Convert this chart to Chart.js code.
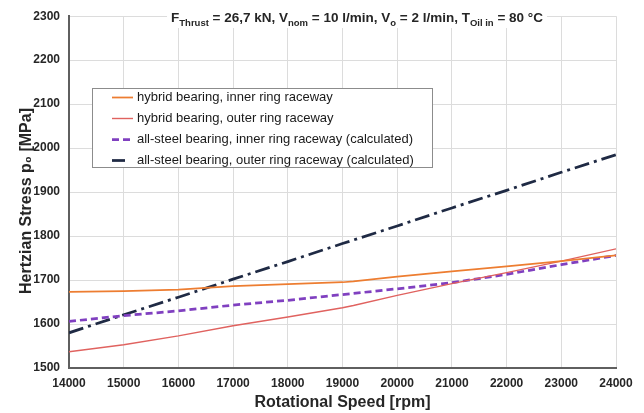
<!DOCTYPE html>
<html><head><meta charset="utf-8">
<script src="https://cdn.jsdelivr.net/npm/chart.js@4.4.1/dist/chart.umd.min.js"></script>
<style>html,body{margin:0;padding:0;background:#fff}canvas{display:block}</style>
</head><body>
<canvas id="c" width="644" height="413"></canvas>
<script>
// ---- data ----
const speedTicks = [14000,15000,16000,17000,18000,19000,20000,21000,22000,23000,24000];
const stressTicks = [1500,1600,1700,1800,1900,2000,2100,2200,2300];

const hybridSpeeds = [14000,15000,16000,17000,18000,19000,19200,20000,21000,22000,23000,24000];
const hybridInner  = [1673,1675,1678,1686,1691,1695,1697,1708,1720,1731,1743,1756];
const hybridOuter  = [1537,1553,1573,1596,1616,1637,1642,1665,1692,1717,1743,1771];

const steelSpeeds  = [14000,15000,16000,17000,18000,19000,20000,21000,22000,23000,24000];
const steelInner   = [1606,1619,1630,1643,1654,1667,1680,1694,1713,1735,1756];
const steelOuter   = [1580,1621,1661,1702,1742,1783,1823,1864,1904,1945,1985];

const seriesLabels = [
  'hybrid bearing, inner ring raceway',
  'hybrid bearing, outer ring raceway',
  'all-steel bearing, inner ring raceway (calculated)',
  'all-steel bearing, outer ring raceway (calculated)'
];
const titleParts = [['F',0],['Thrust',1],[' = 26,7 kN, V',0],['nom',1],[' = 10 l/min, V',0],['o',1],[' = 2 l/min, T',0],['Oil in',1],[' = 80 °C',0]];
const xTitle = 'Rotational Speed [rpm]';
const yTitle = 'Hertzian Stress p\u2080 [MPa]';

// ---- chart ----
const FAM = '"Liberation Sans", Arial, sans-serif';
const pts = (xs, ys) => xs.map((x, i) => ({x, y: ys[i]}));

const titlePlugin = {
  id: 'condTitle',
  beforeDatasetsDraw(chart) {
    const ctx = chart.ctx; ctx.save();
    const mainFont = 'bold 13.5px ' + FAM, subFont = 'bold 9.5px ' + FAM;
    let w = 0;
    for (const [t, s] of titleParts) { ctx.font = s ? subFont : mainFont; w += ctx.measureText(t).width; }
    let x = 357 - w / 2;
    ctx.fillStyle = '#fff'; ctx.fillRect(x - 4, 10, w + 8, 18);
    ctx.fillStyle = '#262626'; ctx.textBaseline = 'alphabetic'; ctx.textAlign = 'left';
    for (const [t, s] of titleParts) {
      ctx.font = s ? subFont : mainFont;
      ctx.fillText(t, x, s ? 25.5 : 22);
      x += ctx.measureText(t).width;
    }
    ctx.restore();
  }
};

const legendPlugin = {
  id: 'boxLegend',
  afterDatasetsDraw(chart) {
    const ctx = chart.ctx; ctx.save();
    const x0 = 92.5, y0 = 88.5, w = 340, h = 79;
    ctx.fillStyle = '#fff'; ctx.fillRect(x0, y0, w, h);
    ctx.strokeStyle = '#8c8c8c'; ctx.lineWidth = 1; ctx.strokeRect(x0, y0, w, h);
    chart.data.datasets.forEach((ds, i) => {
      const y = 97.5 + i * 21;
      const dash = ds.borderDash || [];
      const len = dash.length > 2 ? Math.min(21, dash[0] - 2) : 21;
      ctx.strokeStyle = ds.borderColor; ctx.lineWidth = ds.borderWidth;
      ctx.setLineDash(dash);
      ctx.beginPath(); ctx.moveTo(112, y); ctx.lineTo(112 + len, y); ctx.stroke();
      ctx.setLineDash([]);
      ctx.fillStyle = '#1a1a1a'; ctx.font = '13px ' + FAM;
      ctx.textBaseline = 'middle'; ctx.textAlign = 'left';
      ctx.fillText(ds.label, 137, y);
    });
    ctx.restore();
  }
};

new Chart(document.getElementById('c'), {
  type: 'line',
  data: {
    datasets: [
      {label: seriesLabels[0], data: pts(hybridSpeeds, hybridInner), borderColor: '#ED7D31', borderWidth: 1.75},
      {label: seriesLabels[1], data: pts(hybridSpeeds, hybridOuter), borderColor: '#E0625F', borderWidth: 1.4},
      {label: seriesLabels[2], data: pts(steelSpeeds, steelInner), borderColor: '#8040C0', borderWidth: 2.75, borderDash: [7, 4]},
      {label: seriesLabels[3], data: pts(steelSpeeds, steelOuter), borderColor: '#1F2A44', borderWidth: 2.75, borderDash: [15, 5, 3, 5]}
    ]
  },
  options: {
    responsive: false, animation: false,
    layout: {padding: {top: 14, right: 28, left: 0, bottom: 0}},
    elements: {point: {radius: 0}, line: {tension: 0, fill: false}},
    plugins: {legend: {display: false}, title: {display: false}, tooltip: {enabled: false}},
    scales: {
      x: {
        type: 'linear', min: 14000, max: 24000,
        afterBuildTicks(s) { s.ticks = speedTicks.map(v => ({value: v})); },
        afterFit(s) { s.height = 45; },
        ticks: {callback: v => String(v), font: {family: FAM, size: 12, weight: 'bold'}, color: '#262626', padding: 8, maxRotation: 0, autoSkip: false},
        grid: {color: '#dcdcdc', lineWidth: 1, drawTicks: false},
        border: {color: '#5f5f5f', width: 2},
        title: {display: true, text: xTitle, font: {family: FAM, size: 16, weight: 'bold'}, color: '#262626', padding: {top: 0, bottom: 1}}
      },
      y: {
        type: 'linear', min: 1500, max: 2300,
        afterBuildTicks(s) { s.ticks = stressTicks.map(v => ({value: v})); },
        afterFit(s) { s.width = 69; },
        ticks: {callback: v => String(v), font: {family: FAM, size: 12, weight: 'bold'}, color: '#262626', padding: 9, autoSkip: false},
        grid: {color: '#dcdcdc', lineWidth: 1, drawTicks: false},
        border: {color: '#5f5f5f', width: 2},
        title: {display: true, text: yTitle + '    ', font: {family: FAM, size: 16, weight: 'bold'}, color: '#262626', padding: {top: 17, bottom: 0}}
      }
    }
  },
  plugins: [titlePlugin, legendPlugin]
});
</script>
</body></html>
